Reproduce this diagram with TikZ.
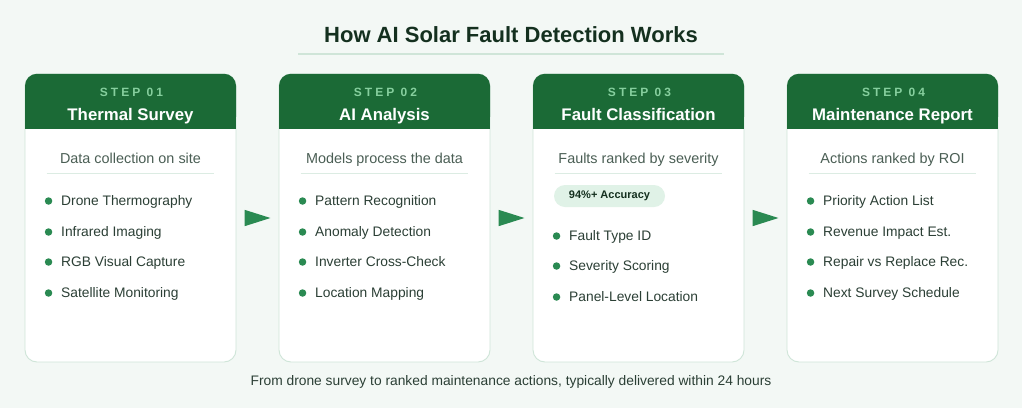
\documentclass[tikz,border=0pt]{standalone}
\usepackage{fontspec}
\setmainfont{Liberation Sans}
\newfontfamily\stepfont[LetterSpace=25]{Liberation Sans}
\usepackage{tikz}
\usetikzlibrary{positioning,arrows.meta,calc}

\definecolor{pagebg}{HTML}{F3F8F5}
\definecolor{headgreen}{HTML}{1B6A36}
\definecolor{steptint}{HTML}{86CF9E}
\definecolor{inkdark}{HTML}{14301F}
\definecolor{inksub}{HTML}{4A5E54}
\definecolor{inkitem}{HTML}{2B3F35}
\definecolor{dotgreen}{HTML}{2A8A52}
\definecolor{cardline}{HTML}{CFE5D8}
\definecolor{ruleline}{HTML}{DCECE3}
\definecolor{badgefill}{HTML}{E0F2E7}

\begin{document}
\begin{tikzpicture}[x=1pt,y=-1pt,
  card/.style={
    draw=cardline,
    fill=white,
    line width=0.9pt,
    rounded corners=12pt,
    minimum width=211pt,
    minimum height=288pt,
    inner sep=0pt
  },
  head/.style={
    fill=headgreen,
    rounded corners=12pt,
    minimum width=211pt,
    minimum height=55pt,
    inner sep=0pt
  },
  steplabel/.style={text=steptint, inner sep=0pt, text height=8.6pt, text depth=0pt,
    font=\stepfont\bfseries\fontsize{12}{14}\selectfont},
  steptitle/.style={text=white, inner sep=0pt, text height=12pt, text depth=0pt,
    font=\bfseries\fontsize{16.8}{20}\selectfont},
  subtitle/.style={text=inksub, inner sep=0pt, text height=10.3pt, text depth=0pt,
    font=\fontsize{14.4}{17}\selectfont},
  item/.style={text=inkitem, anchor=west, inner sep=0pt, text height=9.9pt, text depth=0pt,
    font=\fontsize{13.8}{16}\selectfont,
    label={[dot, label distance=8.5pt]left:{}}},
  dot/.style={circle, fill=dotgreen, minimum size=7.5pt, inner sep=0pt},
  badge/.style={fill=badgefill, rounded corners=11pt, minimum width=111pt, minimum height=22pt,
    text=inkdark, font=\bfseries\fontsize{11}{13}\selectfont},
  sepline/.style={draw=ruleline, line width=1pt},
  flow/.style={-{Triangle[length=26pt,width=16pt]}, draw=dotgreen, line width=1.5pt,
    shorten <=9pt, shorten >=8pt}
]
  % page
  \fill[pagebg] (0,0) rectangle (1022,408);
  \useasboundingbox (0,0) rectangle (1022,408);

  \node[text=inkdark, inner sep=0pt, text height=15.8pt, text depth=0pt,
    font=\bfseries\fontsize{22}{26}\selectfont] (title) at (511,35) {How AI Solar Fault Detection Works};
  \draw[draw=cardline, line width=1.5pt] (298,54) -- (724,54);

  % cards
  \node[card] (card1) at (130.5,218) {};
  \node[card] (card2) at (384.5,218) {};
  \node[card] (card3) at (638.5,218) {};
  \node[card] (card4) at (892.5,218) {};

  \node[head, anchor=north] (head1) at (card1.north) {};
  \node[head, anchor=north] (head2) at (card2.north) {};
  \node[head, anchor=north] (head3) at (card3.north) {};
  \node[head, anchor=north] (head4) at (card4.north) {};
  \fill[headgreen] (head1.west) rectangle (head1.south east);
  \fill[headgreen] (head2.west) rectangle (head2.south east);
  \fill[headgreen] (head3.west) rectangle (head3.south east);
  \fill[headgreen] (head4.west) rectangle (head4.south east);

  \node[steplabel] (step1) at (131.5,92) {STEP 01};
  \node[steplabel] (step2) at (385.5,92) {STEP 02};
  \node[steplabel] (step3) at (639.5,92) {STEP 03};
  \node[steplabel] (step4) at (893.5,92) {STEP 04};

  \node[steptitle] (name1) at (130.5,114) {Thermal Survey};
  \node[steptitle] (name2) at (384.5,114) {AI Analysis};
  \node[steptitle] (name3) at (638.5,114) {Fault Classification};
  \node[steptitle] (name4) at (892.5,114) {Maintenance Report};

  \node[subtitle] (sub1) at (130.5,158) {Data collection on site};
  \node[subtitle] (sub2) at (384.5,158) {Models process the data};
  \node[subtitle] (sub3) at (638.5,158) {Faults ranked by severity};
  \node[subtitle] (sub4) at (892.5,158) {Actions ranked by ROI};

  \draw[sepline] ($(card1.north west)+(22,100)$) -- ($(card1.north east)+(-22,100)$);
  \draw[sepline] ($(card2.north west)+(22,100)$) -- ($(card2.north east)+(-22,100)$);
  \draw[sepline] ($(card3.north west)+(22,100)$) -- ($(card3.north east)+(-22,100)$);
  \draw[sepline] ($(card4.north west)+(22,100)$) -- ($(card4.north east)+(-22,100)$);

  % step 01
  \node[item] (s1a) at (61,201) {Drone Thermography};
  \node[item] (s1b) at (61,232) {Infrared Imaging};
  \node[item] (s1c) at (61,262) {RGB Visual Capture};
  \node[item] (s1d) at (61,293) {Satellite Monitoring};

  % step 02
  \node[item] (s2a) at (315,201) {Pattern Recognition};
  \node[item] (s2b) at (315,232) {Anomaly Detection};
  \node[item] (s2c) at (315,262) {Inverter Cross-Check};
  \node[item] (s2d) at (315,293) {Location Mapping};

  % step 03
  \node[badge] (acc) at (609.5,196) {94\%+ Accuracy};
  \node[item] (s3a) at (569,236) {Fault Type ID};
  \node[item] (s3b) at (569,266) {Severity Scoring};
  \node[item] (s3c) at (569,297) {Panel-Level Location};

  % step 04
  \node[item] (s4a) at (823,201) {Priority Action List};
  \node[item] (s4b) at (823,232) {Revenue Impact Est.};
  \node[item] (s4c) at (823,262) {Repair vs Replace Rec.};
  \node[item] (s4d) at (823,293) {Next Survey Schedule};

  \draw[flow] (card1) -- (card2);
  \draw[flow] (card2) -- (card3);
  \draw[flow] (card3) -- (card4);

  \node[text=inkitem, inner sep=0pt, text height=9.9pt, text depth=0pt,
    font=\fontsize{13.8}{16}\selectfont] (foot) at (511,381)
    {From drone survey to ranked maintenance actions, typically delivered within 24 hours};
\end{tikzpicture}
\end{document}
